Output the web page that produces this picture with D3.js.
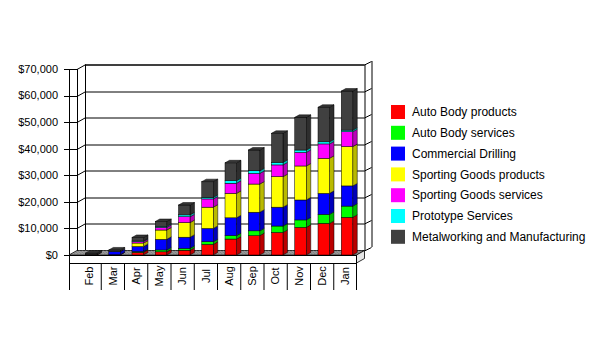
<!DOCTYPE html>
<html><head><meta charset="utf-8">
<script src="https://cdn.jsdelivr.net/npm/d3@7"></script>
<style>body{margin:0;background:#fff}svg{display:block}text{font-family:Arial,"Liberation Sans",sans-serif}</style>
</head><body><svg id="c" width="605" height="349"></svg>
<script>
const months = ["Feb","Mar","Apr","May","Jun","Jul","Aug","Sep","Oct","Nov","Dec","Jan"];
const seriesNames = ["Auto Body products","Auto Body services","Commercial Drilling","Sporting Goods products","Sporting Goods services","Prototype Services","Metalworking and Manufacturing"];
const seriesColors = ["#ff0000","#00ff00","#0000ff","#ffff00","#ff00ff","#00ffff","#404040"];
const autoBodyProducts      = [100,100,1000,1200,1800,4000,6000,7300,8500,10400,11900,14200];
const autoBodyServices      = [0,0,300,700,700,1000,1300,1800,2400,2800,3400,4200];
const commercialDrilling    = [0,1200,1900,4000,4200,5000,6700,7000,7100,7500,7900,7600];
const sportingGoodsProducts = [0,0,1300,3500,5500,8000,9200,10600,11500,12800,13200,14800];
const sportingGoodsServices = [0,0,600,1000,2200,3100,3800,4000,4400,5100,5400,5600];
const prototypeServices     = [0,0,200,400,700,600,1000,1000,1000,900,800,600];
const metalworking          = [600,600,1300,1800,3700,5900,6700,7800,10900,12300,13000,14700];
const yTicks = [0,10000,20000,30000,40000,50000,60000,70000];

const seriesValues = [autoBodyProducts,autoBodyServices,commercialDrilling,sportingGoodsProducts,sportingGoodsServices,prototypeServices,metalworking];
const rows = months.map((m,i)=>{const r={month:m};seriesNames.forEach((s,k)=>r[s]=seriesValues[k][i]);return r;});
const stacked = d3.stack().keys(seriesNames)(rows);

const svg = d3.select("#c");
const y = d3.scaleLinear().domain([0,70000]).range([255,69]);
const x = d3.scaleBand().domain(months).range([77.5,356.5]).padding(0);
const DX=8, DY=-4.5;      // wall depth
const BDX=4.5, BDY=-2.5;  // bar depth
const axX=69, wallF=77, wallB=85, backR=356.5+DX;

const g = svg.append("g");
const line=(x1,y1,x2,y2,c="#000",w=1)=>g.append("line").attr("x1",x1).attr("y1",y1).attr("x2",x2).attr("y2",y2).attr("stroke",c).attr("stroke-width",w);

// back wall gridlines and left wall
yTicks.forEach(v=>{
  const yy=Math.round(y(v))+0.5;
  line(64,yy,wallF,yy);
  line(wallF,yy,wallB,yy+DY);
  if(v>0) line(wallB,yy+DY,backR,yy+DY);
  line(backR,yy+DY,backR+7,yy+DY-3.5);
});
line(wallB,y(70000)+DY+0.5,backR,y(70000)+DY+0.5);
line(axX+0.5,y(70000),axX+0.5,290);
line(wallF+0.5,y(70000),wallF+0.5,255);
line(wallB+0.5,y(70000)+DY,wallB+0.5,255+DY);
line(backR+0.5,y(70000)+DY,backR+0.5,255+DY);
line(backR+7.5,y(70000)+DY-3.5,backR+7.5,255+DY-3.5);

// y labels
g.append("g").selectAll("text").data(yTicks).join("text")
  .attr("x",58).attr("y",d=>y(d)).attr("dy","0.35em").attr("text-anchor","end")
  .attr("font-size",11).attr("fill","#000").text(d=>d3.format("$,")(d));

// floor
const fl=[[axX,255],[356.5,255],[356.5+DX,255+DY],[axX+DX,255+DY]];
g.append("polygon").attr("points",fl.map(p=>p.join(",")).join(" ")).attr("fill","#a8a8a8").attr("stroke","#000").attr("stroke-width",0.8);
for(let xx=axX+3; xx<356; xx+=3){ line(xx,255,xx+DX,255+DY,"#6a6a6a",0.6); }
g.append("polygon").attr("points",[[356.5,255],[356.5+DX,255+DY],[356.5+DX,263+DY],[356.5,263]].map(p=>p.join(",")).join(" ")).attr("fill","#e6e6e6").attr("stroke","#000").attr("stroke-width",0.8);
line(axX,255.5,356.5,255.5);
line(axX,263.5,356.5,263.5);
line(356.5,255,356.5,290);

// category dividers and labels
months.forEach((m,i)=>{ if(i>0) line(x(m)+0.5,263,x(m)+0.5,290); });
g.append("g").selectAll("text").data(months).join("text")
  .attr("transform",d=>`translate(${x(d)+x.bandwidth()/2+0.5},276) rotate(-90)`)
  .attr("text-anchor","middle").attr("dy","0.35em").attr("font-size",11).attr("fill","#000").text(d=>d);

// bars
const bw=11.5, off=8;
const bars=g.append("g");
stacked.forEach((s,k)=>{
  const col=seriesColors[k];
  s.forEach((d,i)=>{
    const v=d[1]-d[0]; if(v<=0) return;
    const m=months[i], x0=x(m)+off, x1=x0+bw, y0=y(d[0]), y1=y(d[1]);
    const sg=bars.append("g");
    sg.append("polygon").attr("points",[[x1,y0],[x1+BDX,y0+BDY],[x1+BDX,y1+BDY],[x1,y1]].map(p=>p.join(",")).join(" "))
      .attr("fill",d3.color(col).darker(0.9)).attr("stroke","#000").attr("stroke-width",0.5);
    sg.append("rect").attr("x",x0).attr("y",y1).attr("width",bw).attr("height",y0-y1)
      .attr("fill",col).attr("stroke","#000").attr("stroke-width",0.5);
  });
});
// top faces
months.forEach((m,i)=>{
  let top=null,k=stacked.length-1;
  for(;k>=0;k--){ if(stacked[k][i][1]-stacked[k][i][0]>0){top=stacked[k][i][1];break;} }
  if(top===null) return;
  const x0=x(m)+off, x1=x0+bw, yy=y(top);
  bars.append("polygon").attr("points",[[x0,yy],[x1,yy],[x1+BDX,yy+BDY],[x0+BDX,yy+BDY]].map(p=>p.join(",")).join(" "))
    .attr("fill",d3.color(seriesColors[k]).darker(0.5)).attr("stroke","#000").attr("stroke-width",0.5);
});

// legend
const lg=g.append("g");
seriesNames.forEach((s,k)=>{
  const yy=105+k*20.8;
  lg.append("rect").attr("x",391).attr("y",yy).attr("width",14).attr("height",14).attr("fill",seriesColors[k]);
  lg.append("text").attr("x",412).attr("y",yy+7).attr("dy","0.35em").attr("font-size",12).attr("fill","#000").text(s);
});
</script></body></html>
